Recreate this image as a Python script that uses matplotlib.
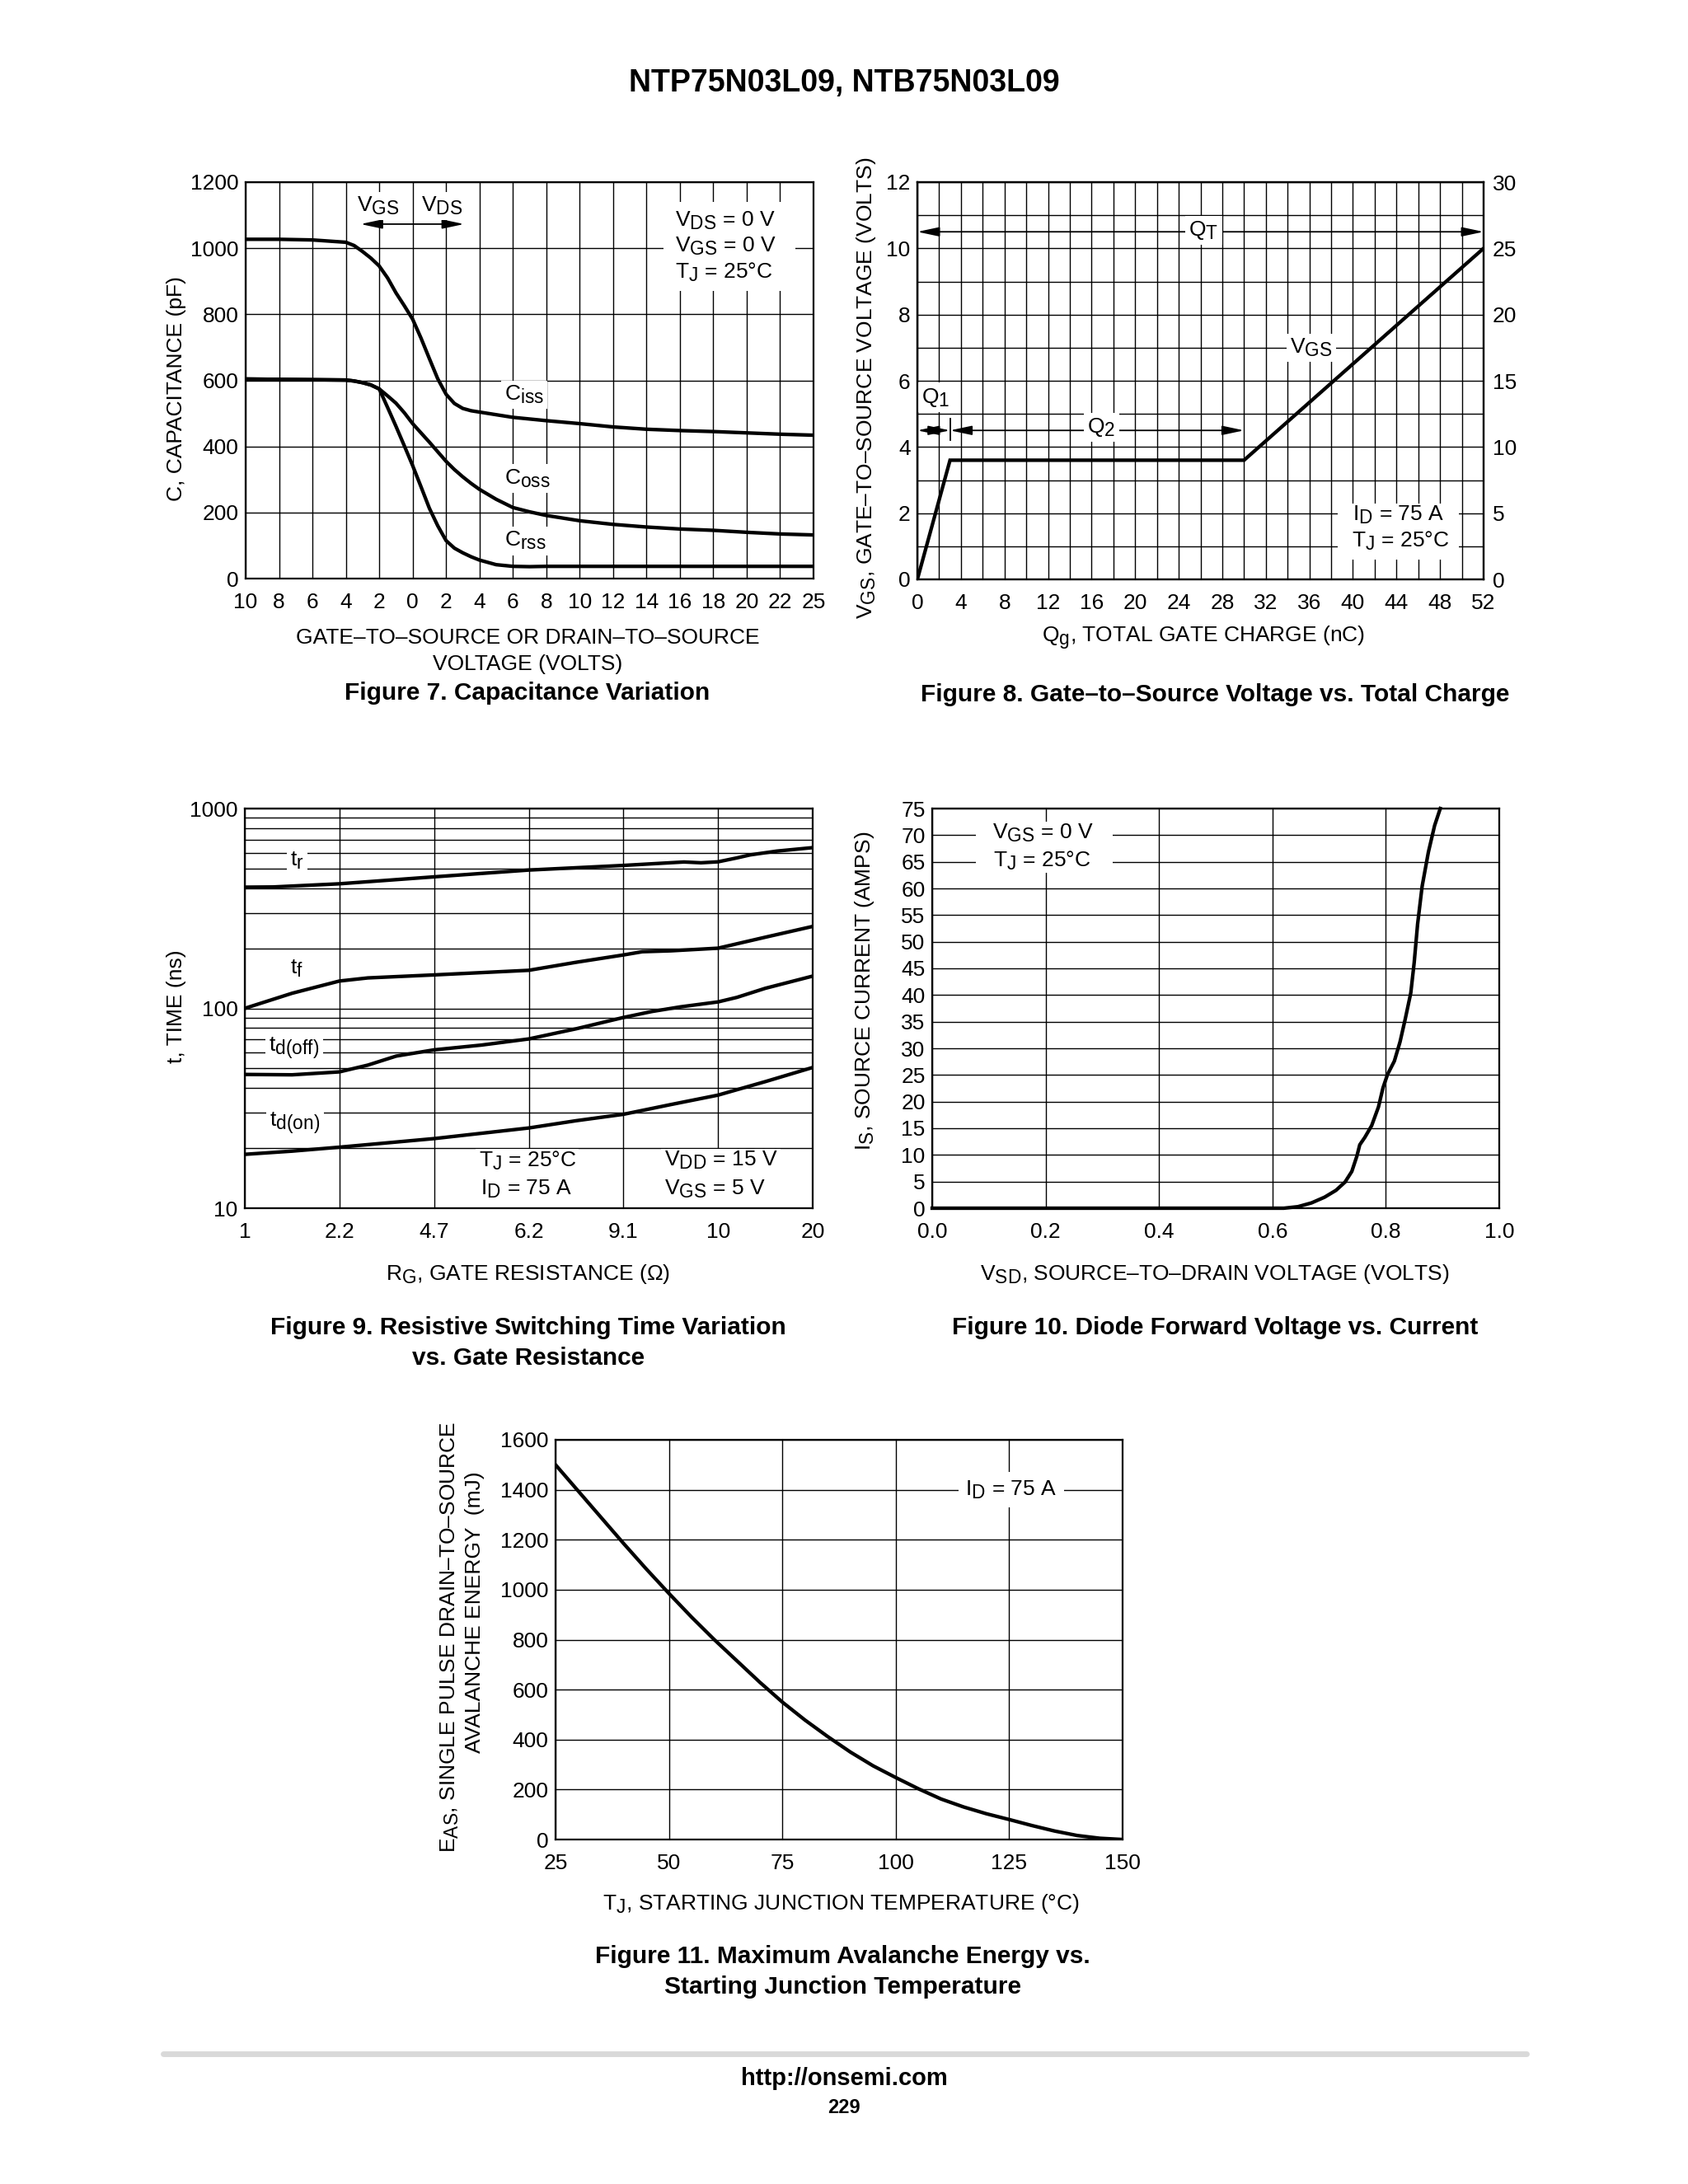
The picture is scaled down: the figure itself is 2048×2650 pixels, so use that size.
import matplotlib
matplotlib.use('Agg')
import matplotlib.pyplot as plt
import matplotlib._mathtext as mathtext_internal
from matplotlib.patches import Rectangle
from matplotlib.ticker import MultipleLocator, LogLocator, NullFormatter, FormatStrFormatter

plt.rcParams['font.family'] = ['Liberation Sans', 'DejaVu Sans']
plt.rcParams['mathtext.fontset'] = 'custom'
plt.rcParams['mathtext.rm'] = 'Liberation Sans'
plt.rcParams['mathtext.it'] = 'Liberation Sans:italic'
plt.rcParams['mathtext.bf'] = 'Liberation Sans:bold'
# datasheet subscripts are nearly full size and sit low
mathtext_internal.SHRINK_FACTOR = 0.86
mathtext_internal.FontConstantsBase.subdrop = 0.6

# ---------------- data ----------------
# Figure 7: capacitance, negative x = VGS side, positive x = VDS side
cap_v = [-10, -8, -6, -4, -3.5, -3, -2.5, -2, -1.5, -1, -0.5, 0, 0.5, 1, 1.5, 2,
         2.5, 3, 3.5, 4, 5, 6, 7, 8, 10, 12, 14, 16, 18, 20, 22, 25]
ciss = [1027, 1027, 1025, 1018, 1008, 990, 970, 946, 910, 865, 826, 785, 728, 666, 605, 558,
        530, 515, 508, 504, 496, 488, 483, 478, 469, 459, 452, 448, 445, 441, 437, 434]
coss = [604, 603, 602, 601, 598, 593, 586, 574, 553, 531, 502, 469, 441, 413, 384, 355,
        330, 308, 288, 270, 240, 215, 202, 191, 175, 164, 156, 150, 146, 140, 135, 132]
crss = [604, 603, 602, 601, 598, 593, 586, 574, 518, 461, 402, 342, 278, 213, 160, 115,
        92, 78, 66, 56, 42, 37, 36, 37, 37, 37, 37, 37, 37, 37, 37, 37]
cap_ticks = ['10', '8', '6', '4', '2', '0', '2', '4', '6', '8', '10', '12', '14', '16',
             '18', '20', '22', '25']

# Figure 8: gate charge
gate_q = [0, 3, 30, 52]
gate_v = [0, 3.6, 3.6, 10]

# Figure 9: switching times, x is position of the resistor value on the axis
rg_labels = ['1', '2.2', '4.7', '6.2', '9.1', '10', '20']
tr_x = [0, 0.3, 1, 2, 3, 4, 4.64, 4.82, 5, 5.2, 5.34, 5.62, 6]
tr_y = [404, 405, 420, 455, 492, 519, 540, 535, 541, 566, 586, 612, 637]
tf_x = [0, 0.5, 1, 1.3, 2, 3, 3.5, 4, 4.2, 4.5, 5, 5.5, 6]
tf_y = [100, 119, 137, 142, 147, 155, 170, 185, 192, 194, 200, 227, 257]
toff_x = [0, 0.5, 1, 1.3, 1.6, 2, 2.5, 3, 3.5, 4, 4.3, 4.6, 5, 5.2, 5.5, 6]
toff_y = [46.7, 46.5, 48.1, 52, 57.7, 62, 65.5, 70.3, 79, 90, 96.4, 101.7, 107.7, 113.5, 126, 145]
ton_x = [0, 0.5, 1, 2, 3, 3.5, 4, 4.5, 5, 5.5, 6]
ton_y = [18.6, 19.3, 20.2, 22.3, 25.2, 27.4, 29.5, 33, 36.8, 43, 50.6]

# Figure 10: diode forward characteristic
vsd = [0, 0.62, 0.645, 0.669, 0.692, 0.712, 0.728, 0.740, 0.749, 0.754, 0.763, 0.775, 0.787,
       0.795, 0.803, 0.815, 0.825, 0.834, 0.844, 0.850, 0.856, 0.864, 0.875, 0.886, 0.896]
i_s = [0, 0, 0.29, 1.0, 2.07, 3.35, 4.9, 6.9, 9.8, 11.9, 13.3, 15.5, 19.0,
       22.6, 25.1, 27.6, 31.2, 35.4, 40.4, 46.1, 53.3, 60.4, 66.8, 71.8, 75]

# Figure 11: avalanche energy
tj = [25, 30, 35, 40, 45, 50, 55, 60, 65, 70, 75, 80, 85, 90, 95, 100, 105, 110, 115,
      120, 125, 130, 135, 140, 145, 150]
eas = [1500, 1395, 1290, 1185, 1083, 985, 890, 800, 715, 630, 550, 478, 412, 350, 295,
       248, 203, 162, 130, 103, 80, 56, 34, 16, 5, 0]

# ---------------- helpers ----------------
W, H = 2048, 2650
FS = 19
LW = 3.1
WHITE = dict(facecolor='white', edgecolor='none', pad=3)

fig = plt.figure(figsize=(W / 100, H / 100), dpi=100)


def px_axes(l, t, r, b):
    return fig.add_axes([l / W, 1 - b / H, (r - l) / W, (b - t) / H])


def ftext(x, y, s, **kw):
    kw.setdefault('ha', 'center')
    kw.setdefault('va', 'center')
    kw.setdefault('fontsize', FS)
    fig.text(x / W, 1 - y / H, s, **kw)


def style(ax):
    ax.set_axisbelow(True)
    ax.grid(which='both', color='black', linewidth=1.0)
    ax.tick_params(which='both', length=0, labelsize=FS)
    ax.tick_params(axis='x', pad=12)
    ax.tick_params(axis='y', pad=6)
    for sp in ax.spines.values():
        sp.set_linewidth(1.6)


def white_box(ax, x0, y0, x1, y1):
    ax.add_patch(Rectangle((x0, y0), x1 - x0, y1 - y0, facecolor='white',
                           edgecolor='none', zorder=2))


def arrow(ax, x0, x1, y):
    ax.annotate('', xy=(x1, y), xytext=(x0, y), zorder=3,
                arrowprops=dict(arrowstyle='<|-|>,head_length=0.8,head_width=0.17',
                                color='black', lw=1.3, shrinkA=0, shrinkB=0,
                                mutation_scale=20))


ftext(1024, 101, 'NTP75N03L09, NTB75N03L09', fontsize=27, fontweight='bold')

# ---------------- Figure 7 ----------------
def cap_pos(v):
    # VGS 10..0, then VDS 0..22 at equal steps, last cell is 22..25
    return (v + 10) / 2 if v <= 22 else 16 + (v - 22) / 3

ax7 = px_axes(298, 221, 987, 702)
style(ax7)
x7 = [cap_pos(v) for v in cap_v]
for ys in (ciss, coss, crss):
    ax7.plot(x7, ys, color='black', lw=LW, solid_joinstyle='round', zorder=5)
ax7.set_xlim(0, 17)
ax7.set_ylim(0, 1200)
ax7.set_xticks(range(len(cap_ticks)))
ax7.set_xticklabels(cap_ticks)
ax7.yaxis.set_major_locator(MultipleLocator(200))
arrow(ax7, 3.44, 6.54, 1073)
ax7.text(3.96, 1128, r'V$_{\rm GS}$', fontsize=FS, ha='center', va='center', bbox=WHITE, zorder=4)
ax7.text(5.88, 1128, r'V$_{\rm DS}$', fontsize=FS, ha='center', va='center', bbox=WHITE, zorder=4)
white_box(ax7, 12.5, 870, 16.45, 1140)
for yy, s in zip([1083, 1005, 927], [r'V$_{\rm DS}$ = 0 V', r'V$_{\rm GS}$ = 0 V', r'T$_{\rm J}$ = 25°C']):
    ax7.text(12.85, yy, s, fontsize=FS, ha='left', va='center', zorder=3)
ax7.text(8.34, 556, r'C$_{\rm iss}$', fontsize=FS, ha='center', va='center', bbox=WHITE, zorder=4)
ax7.text(8.44, 303, r'C$_{\rm oss}$', fontsize=FS, ha='center', va='center', bbox=WHITE, zorder=4)
ax7.text(8.37, 114, r'C$_{\rm rss}$', fontsize=FS, ha='center', va='center', bbox=WHITE, zorder=4)

ftext(214, 472, 'C, CAPACITANCE (pF)', rotation=90)
ftext(640, 774, 'GATE–TO–SOURCE OR DRAIN–TO–SOURCE')
ftext(640, 806, 'VOLTAGE (VOLTS)')
ftext(640, 841, 'Figure 7. Capacitance Variation', fontsize=21.5, fontweight='bold')

# ---------------- Figure 8 ----------------
ax8 = px_axes(1113, 221, 1800, 703)
style(ax8)
ax8.plot(gate_q, gate_v, color='black', lw=LW, solid_joinstyle='miter', zorder=5)
ax8.set_xlim(0, 52)
ax8.set_ylim(0, 12)
ax8.xaxis.set_major_locator(MultipleLocator(4))
ax8.xaxis.set_minor_locator(MultipleLocator(2))
ax8.yaxis.set_major_locator(MultipleLocator(2))
ax8.yaxis.set_minor_locator(MultipleLocator(1))
ax8r = ax8.twinx()
ax8r.set_ylim(0, 30)
ax8r.yaxis.set_major_locator(MultipleLocator(5))
ax8r.tick_params(length=0, labelsize=FS, pad=8)
for sp in ax8r.spines.values():
    sp.set_linewidth(1.6)

arrow(ax8, gate_q[0], gate_q[-1], 10.5)
ax8.text(26.3, 10.55, r'Q$_{\rm T}$', fontsize=FS, ha='center', va='center', bbox=WHITE, zorder=4)
arrow(ax8, gate_q[0], gate_q[1], 4.5)
arrow(ax8, gate_q[1], gate_q[2], 4.5)
ax8.plot([gate_q[1], gate_q[1]], [4.2, 4.85], color='black', lw=1.3, zorder=3)
ax8.text(1.7, 5.5, r'Q$_{\rm 1}$', fontsize=FS, ha='center', va='center', bbox=WHITE, zorder=4)
ax8.text(16.9, 4.6, r'Q$_{\rm 2}$', fontsize=FS, ha='center', va='center', bbox=WHITE, zorder=4)
ax8.text(36.2, 7.0, r'V$_{\rm GS}$', fontsize=FS, ha='center', va='center', bbox=WHITE, zorder=4)
white_box(ax8, 38.6, 0.6, 49.7, 2.3)
ax8.text(44.2, 1.95, r'I$_{\rm D}$ = 75 A', fontsize=FS, ha='center', va='center', zorder=3)
ax8.text(44.4, 1.15, r'T$_{\rm J}$ = 25°C', fontsize=FS, ha='center', va='center', zorder=3)

ftext(1051, 471, r'V$_{\rm GS}$, GATE–TO–SOURCE VOLTAGE (VOLTS)', rotation=90)
ftext(1460, 774, r'Q$_{\rm g}$, TOTAL GATE CHARGE (nC)')
ftext(1474, 843, 'Figure 8. Gate–to–Source Voltage vs. Total Charge', fontsize=21.5, fontweight='bold')

# ---------------- Figure 9 ----------------
ax9 = px_axes(297, 981, 986, 1466)
ax9.set_yscale('log')
style(ax9)
for xs, ys in ((tr_x, tr_y), (tf_x, tf_y), (toff_x, toff_y), (ton_x, ton_y)):
    ax9.plot(xs, ys, color='black', lw=LW, solid_joinstyle='round', zorder=5)
ax9.set_xlim(0, 6)
ax9.set_ylim(10, 1000)
ax9.set_xticks(range(len(rg_labels)))
ax9.set_xticklabels(rg_labels)
ax9.yaxis.set_major_locator(LogLocator(base=10, numticks=5))
ax9.yaxis.set_minor_locator(LogLocator(base=10, subs=range(2, 10), numticks=20))
ax9.yaxis.set_minor_formatter(NullFormatter())
ax9.yaxis.set_major_formatter(FormatStrFormatter('%d'))
ax9.text(0.55, 550, r't$_{\rm r}$', fontsize=FS, ha='center', va='center', bbox=WHITE, zorder=4)
ax9.text(0.55, 158, r't$_{\rm f}$', fontsize=FS, ha='center', va='center', bbox=WHITE, zorder=4)
ax9.text(0.52, 63.5, r't$_{\rm d(off)}$', fontsize=FS, ha='center', va='center', bbox=WHITE, zorder=4)
ax9.text(0.53, 26.7, r't$_{\rm d(on)}$', fontsize=FS, ha='center', va='center', bbox=WHITE, zorder=4)
white_box(ax9, 2.44, 10, 3.53, 19.9)
white_box(ax9, 4.40, 10, 5.66, 19.9)
ax9.text(2.99, 17.3, r'T$_{\rm J}$ = 25°C', fontsize=FS, ha='center', va='center', zorder=3)
ax9.text(2.97, 12.5, r'I$_{\rm D}$ = 75 A', fontsize=FS, ha='center', va='center', zorder=3)
ax9.text(5.03, 17.3, r'V$_{\rm DD}$ = 15 V', fontsize=FS, ha='center', va='center', zorder=3)
ax9.text(4.97, 12.5, r'V$_{\rm GS}$ = 5 V', fontsize=FS, ha='center', va='center', zorder=3)

ftext(214, 1221, 't, TIME (ns)', rotation=90)
ftext(641, 1546, r'R$_{\rm G}$, GATE RESISTANCE (Ω)')
ftext(641, 1611, 'Figure 9. Resistive Switching Time Variation', fontsize=21.5, fontweight='bold')
ftext(641, 1648, 'vs. Gate Resistance', fontsize=21.5, fontweight='bold')

# ---------------- Figure 10 ----------------
ax10 = px_axes(1131, 981, 1819, 1466)
style(ax10)
ax10.plot(vsd, i_s, color='black', lw=LW, solid_joinstyle='round', zorder=5, clip_on=False)
ax10.set_xlim(0, 1.0)
ax10.set_ylim(0, 75)
ax10.xaxis.set_major_locator(MultipleLocator(0.2))
ax10.xaxis.set_major_formatter(FormatStrFormatter('%.1f'))
ax10.yaxis.set_major_locator(MultipleLocator(5))
white_box(ax10, 0.077, 62.9, 0.319, 72.6)
ax10.text(0.196, 70.4, r'V$_{\rm GS}$ = 0 V', fontsize=FS, ha='center', va='center', zorder=3)
ax10.text(0.193, 65.2, r'T$_{\rm J}$ = 25°C', fontsize=FS, ha='center', va='center', zorder=3)

ftext(1049, 1202, r'I$_{\rm S}$, SOURCE CURRENT (AMPS)', rotation=90)
ftext(1474, 1546, r'V$_{\rm SD}$, SOURCE–TO–DRAIN VOLTAGE (VOLTS)')
ftext(1474, 1611, 'Figure 10. Diode Forward Voltage vs. Current', fontsize=21.5, fontweight='bold')

# ---------------- Figure 11 ----------------
ax11 = px_axes(674, 1747, 1362, 2232)
style(ax11)
ax11.plot(tj, eas, color='black', lw=LW, solid_joinstyle='round', zorder=5)
ax11.set_xlim(25, 150)
ax11.set_ylim(0, 1600)
ax11.xaxis.set_major_locator(MultipleLocator(25))
ax11.yaxis.set_major_locator(MultipleLocator(200))
ax11.text(125.4, 1400, r'I$_{\rm D}$ = 75 A', fontsize=FS, ha='center', va='center',
          bbox=dict(facecolor='white', edgecolor='none', pad=6), zorder=4)

ftext(546, 1986, r'E$_{\rm AS}$, SINGLE PULSE DRAIN–TO–SOURCE', rotation=90)
ftext(576, 1956, 'AVALANCHE ENERGY  (mJ)', rotation=90)
ftext(1020, 2310, r'T$_{\rm J}$, STARTING JUNCTION TEMPERATURE (°C)')
ftext(1022, 2374, 'Figure 11. Maximum Avalanche Energy vs.', fontsize=21.5, fontweight='bold')
ftext(1022, 2411, 'Starting Junction Temperature', fontsize=21.5, fontweight='bold')

# ---------------- footer ----------------
fig.add_artist(plt.Line2D([198 / W, 1852 / W], [1 - 2492 / H, 1 - 2492 / H],
                          color='#d9d9d9', lw=5, solid_capstyle='round'))
ftext(1024, 2522, 'http://onsemi.com', fontsize=21, fontweight='bold')
ftext(1024, 2558, '229', fontsize=17, fontweight='bold')

fig.savefig('out.png', dpi=100, facecolor='white')
